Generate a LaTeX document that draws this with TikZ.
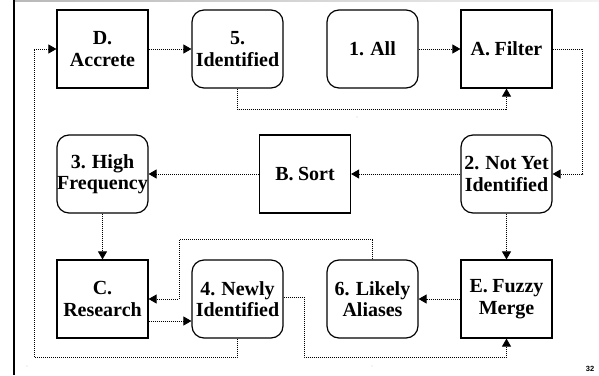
\documentclass[tikz,border=0pt]{standalone}
\usepackage{fontspec}
\setmainfont{Liberation Serif}
\newfontfamily\numfont{Liberation Sans}
\usetikzlibrary{arrows.meta,calc}
\newcommand\myboxfont{\fontsize{20}{21.5}\selectfont\bfseries\spaceskip=0.22em plus 0.05em\relax}
\begin{document}
\begin{tikzpicture}[x=1pt,y=-1pt,
  box/.style={draw=black,line width=1.2pt,minimum width=91pt,minimum height=78pt,inner sep=0pt,align=center,
    font=\myboxfont},
  rbox/.style={box,rounded corners=12pt},
  conn/.style={draw=black,line width=0.9pt,dash pattern=on 1pt off 1pt,
    -{Triangle[length=8pt,width=9pt]}}]
\useasboundingbox (0,0) rectangle (599,375);
\fill[white] (0,0) rectangle (599,375);
\shade[left color=gray!55,right color=gray!10] (15,0) rectangle (599,1.5);
\draw[line width=2.5pt] (14,0) -- (14,375);
% nodes
\node[box]  (D)  at (102.5,49) {D.\\Accrete};
\node[rbox] (S5) at (237.5,49) {5.\\Identified};
\node[rbox] (S1) at (372.5,49) {1. All};
\node[box]  (A)  at (506.5,49) {A. Filter};
\node[rbox] (S3) at (102.5,174) {3. High\\Frequency};
\node[box]  (B)  at (305,174) {B. Sort};
\node[rbox] (S2) at (506.5,174) {2. Not Yet\\Identified};
\node[box]  (C)  at (102.5,299) {C.\\Research};
\node[rbox] (S4) at (237.5,299) {4. Newly\\Identified};
\node[rbox] (S6) at (372.5,299) {6. Likely\\Aliases};
\node[box]  (E)  at (506.5,299) {E. Fuzzy\\Merge};
% helper coordinates
\coordinate (k1) at (179,299);
\coordinate (k2) at (34,357);
\coordinate (k3) at (304,357);
% connectors
\draw[conn] (D) -- (S5);
\draw[conn] (S1) -- (A);
\draw[conn] (S5.south) -- ++(0,21) -| (A.south);
\draw[conn] (A.east) -- ++(30,0) |- (S2.east);
\draw[conn] (S2) -- (B);
\draw[conn] (B) -- (S3);
\draw[conn] (S3) -- (C);
\draw[conn] (S2) -- (E);
\draw[conn] (E) -- (S6);
\draw[conn] (S6.north) -- ++(0,-20) -| (k1) -- (C.east);
\draw[conn] ($(C.east)+(0,22)$) -- ($(S4.west)+(0,22)$);
\draw[conn] (S4.south) |- (k2) |- (D.west);
\draw[conn] ($(S4.east)+(0,-2)$) -| (k3) -| (E.south);
% stray dots
\fill[gray] (27,366) circle (0.45);
\fill[gray] (357,117) circle (0.45);
\fill[gray] (372,366) circle (0.45);
\node[font=\numfont\fontsize{7.5}{8}\selectfont\bfseries] (pg) at (590,369) {32};
\end{tikzpicture}
\end{document}
